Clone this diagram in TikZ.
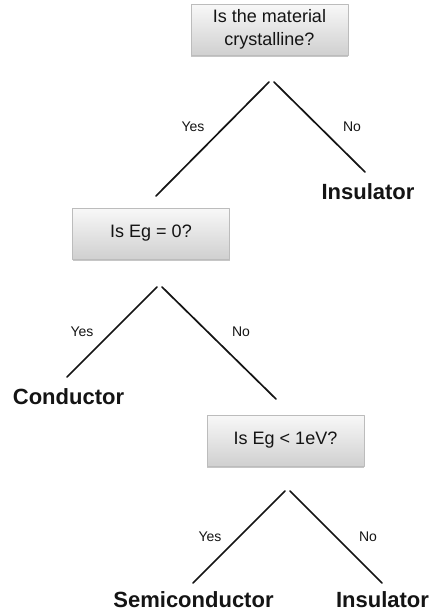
\documentclass[tikz,border=0pt]{standalone}
\usepackage{fontspec}
\setmainfont{Liberation Sans}
\usetikzlibrary{shadows, positioning}
\definecolor{ink}{HTML}{141414}
\definecolor{boxline}{HTML}{BCBCBC}
\definecolor{boxtop}{HTML}{F8F8F8}
\definecolor{boxbot}{HTML}{D0D0D0}
\tikzset{el/.style={line cap=round, line join=round},
  qbox/.style={rectangle, draw=boxline, line width=0.5pt, top color=boxtop, bottom color=boxbot,
     minimum width=157pt, minimum height=51pt, align=center, text=ink, font=\fontsize{18}{23}\selectfont,
     drop shadow={shadow xshift=0pt, shadow yshift=-2pt, opacity=0.45}},
  leaf/.style={ink, inner sep=0pt, font=\fontsize{22}{26}\selectfont\bfseries},
  ans/.style={ink, inner sep=0pt, font=\fontsize{14}{16}\selectfont},
  branch/.style={ink, line width=1.7pt}}

\begin{document}
\begin{tikzpicture}[el, x=1pt, y=-1pt]
  \useasboundingbox (0,0) rectangle (430,613);
  % questions
  \node[qbox] (crys) at (269.5,29.5) {Is the material\\crystalline?};
  \node[qbox] (egzero) at (151,233.5) {Is Eg = 0?};
  \node[qbox] (egone) at (285.5,440.5) {Is Eg < 1eV?};
  % answers
  \node[leaf] (insA) at (368,192) {Insulator};
  \node[leaf] (cond) at (68.5,397) {Conductor};
  \node[leaf] (semi) at (193.5,600) {Semiconductor};
  \node[leaf] (insB) at (382.5,600) {Insulator};
  % branch ends
  \coordinate (crysL) at (269,82);   \coordinate (crysR) at (274,82);
  \coordinate (egzeroL) at (157,287); \coordinate (egzeroR) at (162,287);
  \coordinate (egoneL) at (285,491); \coordinate (egoneR) at (290,491);
  \coordinate (toEgzero) at (156,196); \coordinate (toInsA) at (365,172);
  \coordinate (toCond) at (67,377);    \coordinate (toEgone) at (276,399);
  \coordinate (toSemi) at (193,583);   \coordinate (toInsB) at (382,583);
  \foreach \a/\b/\lab/\nm/\lx/\ly in {crysL/toEgzero/Yes/yesA/193/127, crysR/toInsA/No/noA/352/127,
     egzeroL/toCond/Yes/yesB/82/332, egzeroR/toEgone/No/noB/241/332,
     egoneL/toSemi/Yes/yesC/210/537, egoneR/toInsB/No/noC/368/537}{
     \draw[branch] (\a)--(\b);
     \node[ans] (\nm) at (\lx,\ly) {\lab};}
\end{tikzpicture}
\end{document}
